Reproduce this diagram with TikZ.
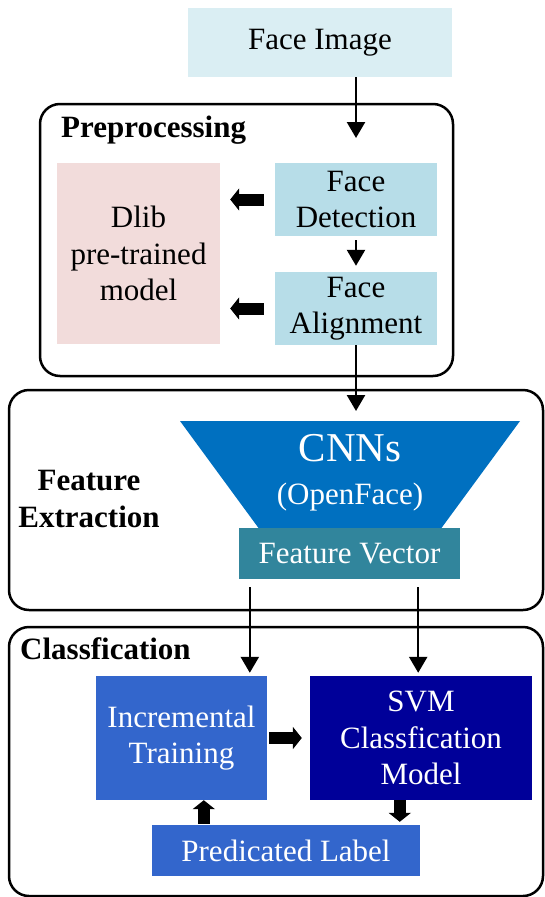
\documentclass[tikz,border=0pt]{standalone}
\usepackage{fontspec}
\setmainfont{Liberation Serif}
\usepackage{xcolor}
\usetikzlibrary{arrows.meta}
\definecolor{imgblue}{HTML}{DAEEF3}
\definecolor{dlibpink}{HTML}{F2DCDB}
\definecolor{stepblue}{HTML}{B7DDE8}
\definecolor{cnnblue}{HTML}{0070C0}
\definecolor{vecteal}{HTML}{31859C}
\definecolor{trainblue}{HTML}{3366CC}
\definecolor{svmnavy}{HTML}{000099}

\begin{document}
\begin{tikzpicture}[x=1pt, y=-1pt,
  box/.style={inner sep=0pt, align=center, font=\fontsize{31}{36.5}\selectfont},
  title/.style={inner sep=0pt, align=center, font=\fontsize{31}{37}\selectfont\bfseries},
  group/.style={draw, line width=2.5pt, rounded corners=20pt},
  flowarrow/.style={line width=2.5pt, -{Triangle[width=18pt,length=16pt]}},
  blockarrow/.style={line width=12pt, -{Triangle[width=22pt,length=9pt]}}]
\useasboundingbox (0,0) rectangle (545,897);

\draw[group] (40,104) rectangle (453,376);
\draw[group] (9,390) rectangle (543,610);
\draw[group] (9,627) rectangle (543,896);

\node[box, fill=imgblue, minimum width=264pt, minimum height=69pt] (img) at (320,42.5) {Face Image};

\node[title, anchor=west] (pretitle) at (61,130) {Preprocessing};
\node[box, fill=dlibpink, minimum width=163pt, minimum height=181pt] (dlib) at (138.5,253.5) {Dlib\\pre-trained\\model};
\node[box, fill=stepblue, minimum width=162pt, minimum height=73pt] (detect) at (356,199.5) {Face\\Detection};
\node[box, fill=stepblue, minimum width=162pt, minimum height=73pt] (align) at (356,308.5) {Face\\Alignment};
\coordinate (prein) at (356,138);

\node[title] (fetitle) at (89,499) {Feature\\Extraction};
\fill[cnnblue] (180,421) -- (520,421) -- (440,530) -- (260,530) -- cycle;
\node[box, text=white, font=\fontsize{41}{43}\selectfont] (cnn) at (350,448) {CNNs};
\node[box, text=white] (openface) at (350,497) {(OpenFace)};
\coordinate (cnnin) at (356,411);
\node[box, fill=vecteal, text=white, minimum width=221pt, minimum height=51pt] (fv) at (349.5,553.5) {Feature Vector};

\node[title, anchor=west] (cltitle) at (20,649) {Classf{}ication};
\node[box, fill=trainblue, text=white, minimum width=171pt, minimum height=124pt] (train) at (181.5,738) {Incremental\\Training};
\node[box, fill=svmnavy, text=white, minimum width=222pt, minimum height=124pt] (svm) at (421,738) {SVM\\Classf{}ication\\Model};
\node[box, fill=trainblue, text=white, minimum width=268pt, minimum height=51pt] (pred) at (286,850.5) {Predicated Label};

\draw[flowarrow] (img.south -| detect) -- (prein);
\draw[flowarrow, shorten <=4pt, shorten >=6pt] (detect) ++(0,36.5) -- (align.north);
\draw[blockarrow, shorten <=11pt, shorten >=10pt] (detect.west) -- (detect.west -| dlib.east);
\draw[blockarrow, shorten <=11pt, shorten >=10pt] (align.west) -- (align.west -| dlib.east);
\draw[flowarrow] (align.south) -- (cnnin);
\draw[flowarrow, shorten <=8pt, shorten >=3pt] ([xshift=11pt]fv.south west) -- ([xshift=11pt]fv.south west |- train.north);
\draw[flowarrow, shorten <=8pt, shorten >=3pt] ([xshift=-42pt]fv.south east) -- ([xshift=-42pt]fv.south east |- svm.north);
\draw[blockarrow, shorten <=2pt, shorten >=8pt] (train.east) -- (svm.west);
\draw[blockarrow, shorten <=1pt, shorten >=0pt] ([xshift=52pt]pred.north west) -- ([xshift=52pt]pred.north west |- train.south);
\draw[blockarrow, shorten <=0pt, shorten >=3pt] ([xshift=90pt]svm.south west) -- ([xshift=90pt]svm.south west |- pred.north);
\end{tikzpicture}
\end{document}
